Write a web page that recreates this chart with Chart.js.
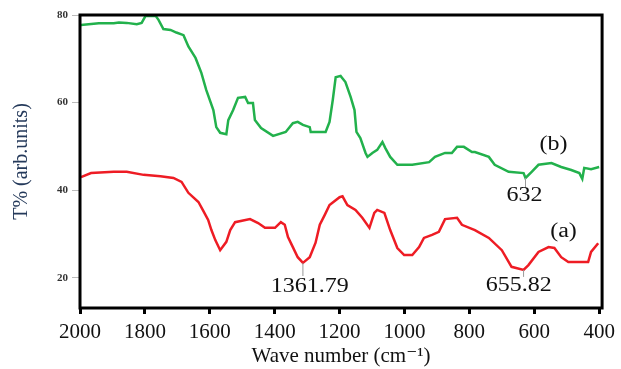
<!DOCTYPE html>
<html>
<head>
<meta charset="utf-8">
<script src="https://cdn.jsdelivr.net/npm/chart.js@4.4.1/dist/chart.umd.min.js"></script>
<style>
  html, body { margin: 0; padding: 0; background: #fff; }
  #wrap { width: 621px; height: 369px; }
</style>
</head>
<body>
<div id="wrap"><canvas id="ftir" width="621" height="369"></canvas></div>
<script>
// --- Data ---
const xTicks = [2000, 1800, 1600, 1400, 1200, 1000, 800, 600, 400];
const yTicks = [20, 40, 60, 80];

// (b) green spectrum: wavenumber / transmittance
const waveB = [1997, 1942, 1896, 1880, 1856, 1825, 1810, 1798, 1767, 1758, 1743, 1721, 1703, 1681, 1666, 1644,
  1626, 1611, 1589, 1580, 1568, 1549, 1543, 1528, 1513, 1491, 1482, 1467, 1461, 1442, 1405, 1366, 1344, 1329,
  1313, 1292, 1289, 1243, 1231, 1221, 1212, 1197, 1182, 1166, 1154, 1148, 1136, 1120, 1114, 1099, 1084, 1068,
  1059, 1044, 1022, 976, 924, 906, 875, 854, 838, 817, 792, 783, 740, 722, 679, 633, 627, 608, 587, 547, 517,
  486, 461, 452, 446, 425, 400];
const transB = [77.7, 78.1, 78.1, 78.3, 78.2, 77.9, 78.2, 79.8, 79.8, 78.9, 76.8, 76.6, 76.0, 75.4, 72.8, 70.2,
  66.8, 62.9, 58.3, 54.4, 53.1, 52.8, 56.0, 58.3, 61.1, 61.3, 59.9, 59.9, 56.0, 54.2, 52.4, 53.3, 55.3, 55.6,
  54.9, 54.4, 53.3, 53.3, 55.6, 60.6, 65.8, 66.1, 64.7, 61.3, 58.3, 53.3, 51.9, 48.5, 47.6, 48.5, 49.2, 51.0,
  49.6, 47.6, 45.8, 45.8, 46.4, 47.6, 48.5, 48.5, 49.9, 49.9, 48.7, 48.7, 47.6, 45.8, 44.2, 43.9, 42.8, 44.2,
  45.8, 46.2, 45.3, 44.6, 43.9, 42.6, 45.1, 44.8, 45.3];

// (a) red spectrum
const waveA = [1997, 1966, 1896, 1856, 1804, 1752, 1712, 1687, 1666, 1635, 1620, 1605, 1595, 1583, 1568, 1549,
  1537, 1522, 1476, 1451, 1430, 1399, 1381, 1369, 1359, 1344, 1329, 1313, 1292, 1274, 1261, 1246, 1231, 1200,
  1191, 1176, 1151, 1130, 1108, 1093, 1084, 1062, 1044, 1022, 1001, 976, 955, 940, 915, 894, 875, 838, 823,
  783, 740, 700, 670, 633, 618, 587, 556, 538, 517, 495, 434, 425, 403];
const transA = [43.0, 43.9, 44.2, 44.2, 43.5, 43.2, 42.8, 41.9, 39.4, 37.3, 35.3, 33.2, 30.9, 28.6, 26.3, 28.2,
  30.9, 32.7, 33.4, 32.5, 31.4, 31.4, 32.7, 32.1, 29.3, 27.0, 24.7, 23.4, 24.7, 28.0, 32.1, 34.3, 36.6, 38.4,
  38.6, 36.6, 35.5, 33.7, 31.4, 34.8, 35.5, 34.8, 30.9, 26.8, 25.2, 25.2, 27.0, 29.1, 29.8, 30.5, 33.4, 33.7,
  32.1, 30.9, 29.1, 26.3, 22.5, 21.8, 22.9, 25.9, 27.0, 26.8, 24.7, 23.6, 23.6, 25.9, 27.9];

// Peak labels and curve names (text, x, y) + leader lines under the minima
const labelText = ['(b)', '632', '(a)', '1361.79', '655.82'];
const labelX = [541, 630, 510, 1292, 648];
const labelY = [50.3, 38.7, 30.5, 17.9, 18.1];
const leaderX = [null, 627, null, 1313, 633];
const leaderFrom = [null, 42.8, null, 23.4, 21.8];
const leaderTo = [null, 40.5, null, 20.4, 20.2];

const toPoints = (xs, ys) => xs.map((x, i) => ({ x: x, y: ys[i] }));
const serif = '"Liberation Serif", "DejaVu Serif", serif';

// frame round the plot area + peak annotations
const framePlugin = {
  id: 'frame',
  afterDraw(chart) {
    const ctx = chart.ctx;
    const a = chart.chartArea;
    const sx = chart.scales.x, sy = chart.scales.y;
    ctx.save();
    ctx.strokeStyle = '#000';
    ctx.lineWidth = 3;
    ctx.strokeRect(a.left, a.top, a.right - a.left, a.bottom - a.top);

    ctx.strokeStyle = '#999';
    ctx.lineWidth = 1;
    leaderX.forEach((lx, i) => {
      if (lx === null) return;
      ctx.beginPath();
      ctx.moveTo(sx.getPixelForValue(lx), sy.getPixelForValue(leaderFrom[i]));
      ctx.lineTo(sx.getPixelForValue(lx), sy.getPixelForValue(leaderTo[i]));
      ctx.stroke();
    });

    // the source text is a bit stretched sideways
    ctx.fillStyle = '#111';
    ctx.font = '20px ' + serif;
    ctx.textAlign = 'center';
    ctx.textBaseline = 'middle';
    labelText.forEach((t, i) => {
      ctx.save();
      ctx.translate(sx.getPixelForValue(labelX[i]), sy.getPixelForValue(labelY[i]));
      ctx.scale(1.2, 1);
      ctx.fillText(t, 0, 0);
      ctx.restore();
    });
    ctx.restore();
  }
};

new Chart(document.getElementById('ftir').getContext('2d'), {
  type: 'line',
  data: {
    datasets: [
      { label: '(b)', data: toPoints(waveB, transB), borderColor: '#22b14c', borderWidth: 2.5, pointRadius: 0, tension: 0 },
      { label: '(a)', data: toPoints(waveA, transA), borderColor: '#ee1c24', borderWidth: 2.5, pointRadius: 0, tension: 0 }
    ]
  },
  options: {
    responsive: false,
    animation: false,
    layout: { padding: { top: 15, right: 15, left: 0, bottom: 0 } },
    plugins: { legend: { display: false }, tooltip: { enabled: false } },
    scales: {
      x: {
        type: 'linear',
        reverse: true,
        min: 391,
        max: 2000,
        afterBuildTicks: (s) => { s.ticks = xTicks.map(v => ({ value: v })); },
        afterFit: (s) => { s.height = 61; },
        border: { display: false },
        grid: { drawOnChartArea: false, tickLength: 6, tickWidth: 3, tickColor: '#000' },
        ticks: {
          color: '#111', padding: 6, maxRotation: 0,
          font: { family: serif, size: 21 },
          callback: (v) => String(v)
        },
        title: {
          display: true,
          text: 'Wave number (cm\u207B\u00B9)',
          color: '#111',
          font: { family: serif, size: 21 },
          padding: { top: 0, bottom: 0 }
        }
      },
      y: {
        min: 13.1,
        max: 80,
        afterBuildTicks: (s) => { s.ticks = yTicks.map(v => ({ value: v })); },
        afterFit: (s) => { s.width = 80; },
        border: { display: false },
        grid: { drawOnChartArea: false, tickLength: 8, tickWidth: 1, tickColor: '#bbb' },
        ticks: { color: '#333', padding: 4, font: { family: serif, size: 11, weight: 'bold' } },
        title: {
          display: true,
          text: 'T% (arb.units)',
          color: '#24395a',
          font: { family: serif, size: 20 },
          padding: { top: 10, bottom: 0 }
        }
      }
    }
  },
  plugins: [framePlugin]
});
</script>
</body>
</html>
